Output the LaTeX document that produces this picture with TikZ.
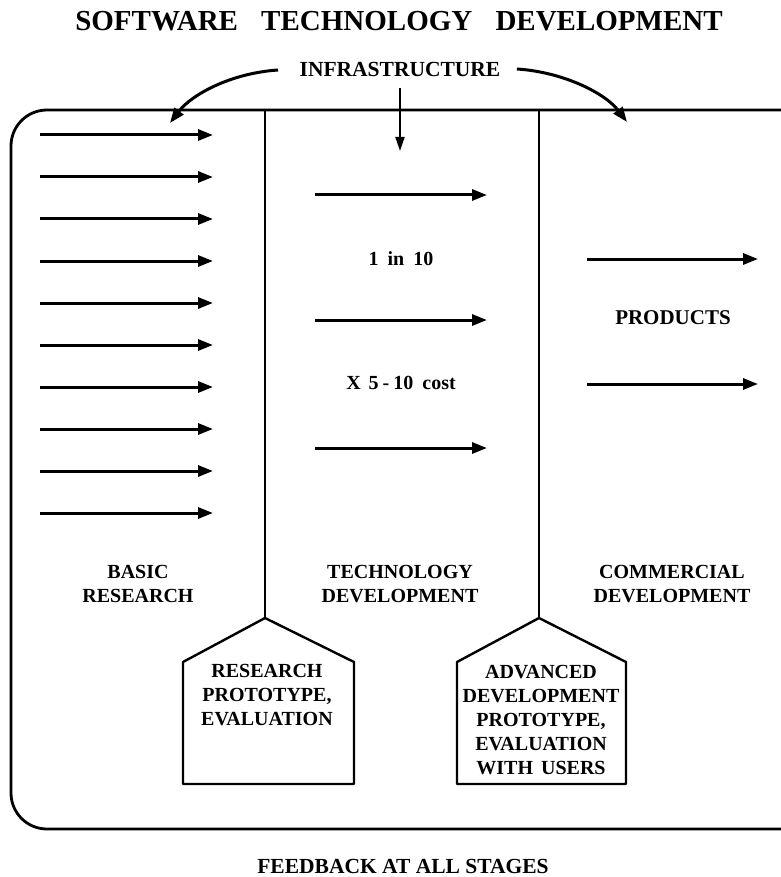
\documentclass[tikz,border=0pt]{standalone}
\usepackage{fontspec}
\setmainfont{Liberation Serif}
\usetikzlibrary{arrows.meta}
\begin{document}
\begin{tikzpicture}[x=1pt,y=-1pt,
  lbl/.style={font=\bfseries\fontsize{20}{24}\selectfont, align=center, inner sep=0pt},
  flow/.style={line width=3pt, -{Triangle[length=15pt,width=11pt]}},
  curvearrow/.style={line width=3pt, -{Triangle[length=15pt,width=11pt]}},
  droparrow/.style={line width=2pt, -{Triangle[length=14pt,width=9pt]}},
  frame/.style={line width=2.8pt, rounded corners=36pt},
  divider/.style={line width=2pt},
  house/.style={line width=2.4pt, line join=round}
]
\useasboundingbox (0,0) rectangle (780,877);

% title
\node[font=\bfseries\fontsize{29}{34}\selectfont, inner sep=0pt] (title) at (399,21)
  {SOFTWARE\hspace{0.8em}TECHNOLOGY\hspace{0.8em}DEVELOPMENT};

% infrastructure
\node[font=\bfseries\fontsize{21.5}{25}\selectfont, inner sep=0pt] (infra) at (400,69) {INFRASTRUCTURE};

% outer frame
\draw[frame] (784,110) -- (11,110) -- (11,829) -- (784,829);

% dividers and houses
\coordinate (d1top) at (265,110);
\coordinate (d1apex) at (265,618);
\coordinate (d2top) at (539,110);
\coordinate (d2apex) at (539,618);
\draw[divider] (d1top) -- (d1apex);
\draw[divider] (d2top) -- (d2apex);
\draw[house] (d1apex) -- (354,662) -- (354,784) -- (183,784) -- (183,662) -- cycle;
\draw[house] (d2apex) -- (626,662) -- (626,784) -- (457,784) -- (457,662) -- cycle;

\node[lbl] (rp) at (267,695) {RESEARCH\\PROTOTYPE,\\EVALUATION};
\node[lbl] (ad) at (541,720) {ADVANCED\\DEVELOPMENT\\PROTOTYPE,\\EVALUATION\\WITH\hspace{0.4em}USERS};

% curved arrows from infrastructure
\coordinate (cl0) at (278,70);
\coordinate (cl1) at (170,123);
\coordinate (cr0) at (517,69);
\coordinate (cr1) at (627,122);
\draw[curvearrow] (cl0) .. controls (232,73) and (192,94) .. (cl1);
\draw[curvearrow] (cr0) .. controls (563,72) and (605,93) .. (cr1);
\coordinate (dn0) at (400,88);
\coordinate (dn1) at (400,151);
\draw[droparrow] (dn0) -- (dn1);

% basic research arrows
\foreach \i in {0,...,9} {
  \coordinate (ls\i) at (40,135+42*\i);
  \coordinate (le\i) at (213,135+42*\i);
  \draw[flow] (ls\i) -- (le\i);
}

% technology development arrows
\foreach \y [count=\i] in {195,320,448} {
  \coordinate (ms\i) at (315,\y);
  \coordinate (me\i) at (487,\y);
  \draw[flow] (ms\i) -- (me\i);
}
\node[lbl] (ratio) at (401,259) {1\hspace{0.45em}in\hspace{0.45em}10};
\node[lbl] (cost) at (401,383) {X\hspace{0.4em}5\hspace{0.2em}-\hspace{0.2em}10\hspace{0.45em}cost};

% commercial arrows
\foreach \y [count=\i] in {259,384} {
  \coordinate (rs\i) at (587,\y);
  \coordinate (re\i) at (758,\y);
  \draw[flow] (rs\i) -- (re\i);
}
\node[lbl, font=\bfseries\fontsize{21}{24}\selectfont] (prod) at (673,318) {PRODUCTS};

% column labels
\node[lbl] (basic) at (138,584) {BASIC\\RESEARCH};
\node[lbl] (tech) at (400,584) {TECHNOLOGY\\DEVELOPMENT};
\node[lbl] (comm) at (672,584) {COMMERCIAL\\DEVELOPMENT};

% feedback
\node[font=\bfseries\fontsize{21.5}{25}\selectfont, inner sep=0pt] (fb) at (403,866) {FEEDBACK AT ALL STAGES};
\end{tikzpicture}
\end{document}
